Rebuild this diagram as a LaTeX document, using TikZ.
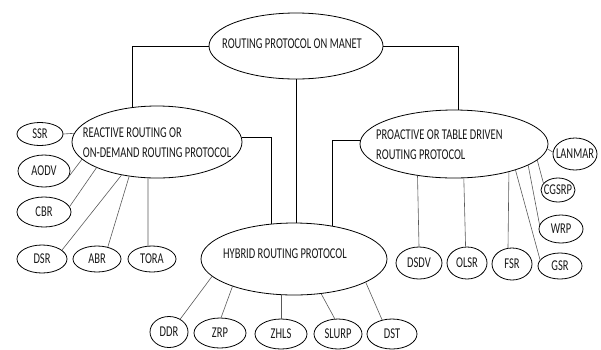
\documentclass[tikz,border=0pt]{standalone}
\usepackage{fontspec}
\setmainfont[FakeStretch=0.7]{Carlito}
\usepackage{tikz}
\usetikzlibrary{shapes.geometric}
\newcommand{\zw}[1]{\makebox[0pt]{#1}}

\begin{document}
\begin{tikzpicture}[x=1pt, y=-1pt,
    oval/.style={draw, ellipse, line width=0.8pt, inner sep=0pt, font=\fontsize{15}{20}\selectfont, text=black!90},
    txt/.style={inner sep=0pt, font=\fontsize{15}{20}\selectfont, text=black!90},
    link/.style={line width=0.9pt},
    twig/.style={line width=0.6pt, black!65}]
    \useasboundingbox (0,0) rectangle (601,349);

    % Main ellipses
    \node[oval, minimum width=174, minimum height=66] (manet) at (296,46) {};
    \node[txt] (manettxt) at (292,44) {ROUTING PROTOCOL ON MANET};
    \node[oval, minimum width=170, minimum height=72] (reac) at (157,142) {};
    \node[txt, align=left] (reactxt) at (157,143) {REACTIVE ROUTING OR\\ON-DEMAND ROUTING PROTOCOL};
    \node[oval, minimum width=188, minimum height=68] (pro) at (454,144) {};
    \node[txt, align=left, anchor=west] (protxt) at (376,145) {PROACTIVE OR TABLE DRIVEN\\ROUTING PROTOCOL};
    \node[oval, minimum width=186, minimum height=72] (hyb) at (294,259) {};
    \node[txt] (hybtxt) at (285,254) {HYBRID ROUTING PROTOCOL};

    % Reactive protocols
    \node[oval, minimum width=46, minimum height=23] (ssr) at (40,134) {\zw{SSR}};
    \node[oval, minimum width=52, minimum height=32] (aodv) at (44,171) {\zw{AODV}};
    \node[oval, minimum width=54, minimum height=30] (cbr) at (44,212) {\zw{CBR}};
    \node[oval, minimum width=50, minimum height=28] (dsr) at (42,259) {\zw{DSR}};
    \node[oval, minimum width=48, minimum height=26] (abr) at (97,259) {\zw{ABR}};
    \node[oval, minimum width=48, minimum height=26] (tora) at (152,259) {\zw{TORA}};

    % Hybrid protocols
    \node[oval, minimum width=38, minimum height=31] (ddr) at (169,332) {\zw{DDR}};
    \node[oval, minimum width=52, minimum height=30] (zrp) at (220,333) {\zw{ZRP}};
    \node[oval, minimum width=52, minimum height=30] (zhls) at (281,334) {\zw{ZHLS}};
    \node[oval, minimum width=48, minimum height=30] (slurp) at (338,334) {\zw{SLURP}};
    \node[oval, minimum width=50, minimum height=30] (dst) at (392,334) {\zw{DST}};

    % Proactive protocols
    \node[oval, minimum width=46, minimum height=32] (dsdv) at (419,263) {\zw{DSDV}};
    \node[oval, minimum width=40, minimum height=32] (olsr) at (467,263) {\zw{OLSR}};
    \node[oval, minimum width=40, minimum height=32] (fsr) at (512,264) {\zw{FSR}};
    \node[oval, minimum width=44, minimum height=26] (gsr) at (560,266) {\zw{GSR}};
    \node[oval, minimum width=44, minimum height=28] (wrp) at (561,229) {\zw{WRP}};
    \node[oval, minimum width=34, minimum height=24] (cgsrp) at (558,190) {\zw{CGSRP}};
    \node[oval, minimum width=44, minimum height=32] (lanmar) at (575,154) {\zw{LANMAR}};

    % Main links
    \draw[link] (manet.west) -| (reac.125);
    \draw[link] (manet.east) -| (pro.83);
    \draw[link] (manet.south) -- (manet.south |- hyb.north);
    \draw[link] (reac.3) -| (hyb.122);
    \draw[link] (pro.178) -| (hyb.41);

    % Leaf links
    \draw[twig] (ssr.east) -- (reac.174);
    \draw[twig] (aodv.340) -- (reac.193);
    \draw[twig] (cbr.12) -- (reac.203);
    \draw[twig] (dsr.24) -- (reac.223);
    \draw[twig] (abr.48) -- (reac.231);
    \draw[twig] (tora.107) -- (reac.256);

    \draw[twig] (ddr.49) -- (hyb.192);
    \draw[twig] (zrp.86) -- (hyb.204);
    \draw[twig] (zhls.north) -- (zhls.north |- hyb.south);
    \draw[twig] (slurp.102) -- (hyb.308);
    \draw[twig] (dst.125) -- (hyb.342);

    \draw[twig] (dsdv.north) -- (pro.221);
    \draw[twig] (olsr.95) -- (pro.286);
    \draw[twig] (fsr.104) -- (pro.333);
    \draw[twig] (gsr.163) -- (pro.337);
    \draw[twig] (wrp.169) -- (pro.344);
    \draw[twig] (cgsrp.155) -- (pro.349);
    \draw[twig] (lanmar.175) -- (pro.357);
\end{tikzpicture}
\end{document}
